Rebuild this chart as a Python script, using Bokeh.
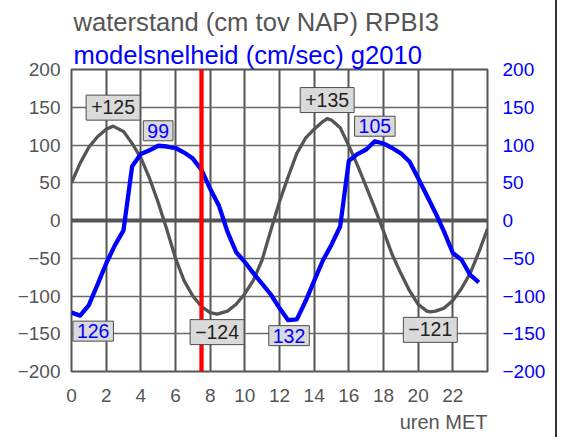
from bokeh.plotting import figure
from bokeh.models import Range1d, LinearAxis, FixedTicker, Span, Label, Title
from bokeh.embed import file_html
from bokeh.resources import INLINE

FONT = "Liberation Sans"

# ---- data ----
title_1 = "waterstand (cm tov NAP) RPBI3"
title_2 = "modelsnelheid (cm/sec) g2010"
x_label = "uren MET"

x_ticks = [0, 2, 4, 6, 8, 10, 12, 14, 16, 18, 20, 22]
y_ticks = [-200, -150, -100, -50, 0, 50, 100, 150, 200]

# waterstand (grey)
gray_hours = [0.0, 0.5, 1.0, 1.5, 2.0, 2.4, 3.0, 3.5, 4.0, 4.5, 5.0, 5.5, 6.0, 6.5, 7.0, 7.5,
              8.0, 8.4, 9.0, 9.5, 10.0, 10.5, 11.0, 11.5, 12.0, 12.5, 13.0, 13.5, 14.0, 14.5,
              14.75, 15.0, 15.5, 16.0, 16.5, 17.0, 17.5, 18.0, 18.5, 19.0, 19.5, 20.0, 20.5,
              20.7, 21.0, 21.5, 22.0, 22.5, 23.0, 23.5, 24.0]
gray_vals = [50, 76, 97, 111, 121, 125, 118, 102, 83, 56, 24, -12, -50, -80, -100, -114,
             -122, -124, -120, -111, -97, -79, -52, -13, 25, 58, 89, 109, 121, 131,
             135, 133, 123, 99, 73, 45, 16, -14, -45, -70, -93, -111, -120,
             -121, -120, -116, -106, -90, -70, -42, -11]

# modelsnelheid (blue)
blue_hours = [0.0, 0.5, 1.0, 1.5, 2.0, 2.5, 3.0, 3.5, 4.0, 4.5, 5.0, 5.5, 6.0, 6.5, 7.0, 7.5,
              8.0, 8.5, 9.0, 9.5, 10.0, 10.5, 11.0, 11.5, 12.0, 12.5, 13.0, 13.5, 14.0, 14.5,
              15.0, 15.5, 16.0, 16.5, 17.0, 17.5, 18.0, 18.5, 19.0, 19.5, 20.0, 20.5, 21.0,
              21.5, 22.0, 22.5, 23.0, 23.5]
blue_vals = [-122, -126, -112, -85, -57, -33, -13, 72, 88, 93, 99, 98, 96, 90, 82, 67,
             42, 20, -15, -42, -55, -70, -84, -98, -116, -132, -131, -107, -80, -53,
             -32, -8, 79, 88, 94, 105, 102, 96, 89, 78, 56, 33, 10,
             -15, -43, -52, -72, -82]

# extremes (labels)
gray_ext_hours = [2.4, 8.4, 14.75, 20.7]
gray_ext_vals = [125, -124, 135, -121]
blue_ext_hours = [0.5, 5.0, 12.55, 17.5]
blue_ext_vals = [-126, 99, -132, 105]

now_hour = 7.5

# ---- figure ----
p = figure(frame_width=416, frame_height=302, x_range=Range1d(0, 24), y_range=Range1d(-200, 200),
           output_backend="svg", toolbar_location=None,
           min_border_left=71, min_border_right=68, min_border_top=69, min_border_bottom=0)
p.background_fill_color = "white"
p.border_fill_color = "white"
p.outline_line_color = "#555555"
p.outline_line_width = 2
p.styles = {"border-right": "2px solid #333333"}


def fmt(t):
    return str(t).replace("-", "\u2212")


def style_axis(ax, color, standoff):
    ax.axis_line_color = None
    ax.major_tick_line_color = None
    ax.minor_tick_line_color = None
    ax.major_tick_out = 0
    ax.major_tick_in = 0
    ax.major_label_standoff = standoff
    ax.major_label_text_font = FONT
    ax.major_label_text_font_size = "19px"
    ax.major_label_text_color = color


p.xaxis.ticker = FixedTicker(ticks=x_ticks)
style_axis(p.xaxis[0], "#555555", 17)
p.yaxis.ticker = FixedTicker(ticks=y_ticks)
p.yaxis.major_label_overrides = {t: fmt(t) for t in y_ticks}
style_axis(p.yaxis[0], "#555555", 11)

right = LinearAxis(ticker=FixedTicker(ticks=y_ticks),
                   major_label_overrides={t: fmt(t) for t in y_ticks})
style_axis(right, "#0000ff", 15)
p.add_layout(right, "right")

p.xgrid.ticker = FixedTicker(ticks=x_ticks[1:])
p.xgrid.grid_line_color = "#555555"
p.xgrid.grid_line_width = 2
p.ygrid.ticker = FixedTicker(ticks=y_ticks)
p.ygrid.grid_line_color = "#6a6a6a"
p.ygrid.grid_line_width = 1.5

p.add_layout(Span(location=0, dimension="width", line_color="#555555",
                  line_width=4, level="underlay"))

p.line(gray_hours, gray_vals, line_color="#555555", line_width=3.3, line_join="round")
p.line(blue_hours, blue_vals, line_color="#0000ff", line_width=4.3, line_join="round")

p.add_layout(Span(location=now_hour, dimension="height", line_color="#ff0000", line_width=4.3))

for h, v in zip(gray_ext_hours, gray_ext_vals):
    up = v > 0
    txt = ("+" + str(v)) if up else fmt(v)
    p.add_layout(Label(x=h, y=v, text=txt, text_align="center",
                       text_baseline="bottom" if up else "top",
                       y_offset=6 if up else -5.5,
                       text_font=FONT, text_font_size="19.5px", text_color="#222222",
                       background_fill_color="#dadada", border_line_color="#4d4d4d",
                       border_line_width=1, padding=(5, 5, 5, 6)))

for h, v in zip(blue_ext_hours, blue_ext_vals):
    up = v > 0
    shift = 13 if h < 1 else 0   # keep the box inside the plot frame
    p.add_layout(Label(x=h, y=v, text=str(abs(v)), text_align="center",
                       text_baseline="bottom" if up else "top",
                       x_offset=shift, y_offset=5 if up else -5.5,
                       text_font=FONT, text_font_size="19.5px", text_color="#0000ff",
                       background_fill_color="#dadada", border_line_color="#4d4d4d",
                       border_line_width=1, padding=(4, 4, 3, 3)))

t2 = Title(text=title_2, align="left", offset=2, standoff=2,
           text_font=FONT, text_font_size="25.6px", text_color="#0000ff",
           text_font_style="normal")
t1 = Title(text=title_1, align="left", offset=2, standoff=4,
           text_font=FONT, text_font_size="25.6px", text_color="#555555",
           text_font_style="normal")
p.add_layout(t2, "above")
p.add_layout(t1, "above")

tb = Title(text=x_label, align="right", offset=0, standoff=9,
           text_font=FONT, text_font_size="20px", text_color="#555555",
           text_font_style="normal")
p.add_layout(tb, "below")

open("out.html", "w").write(file_html(p, INLINE))
